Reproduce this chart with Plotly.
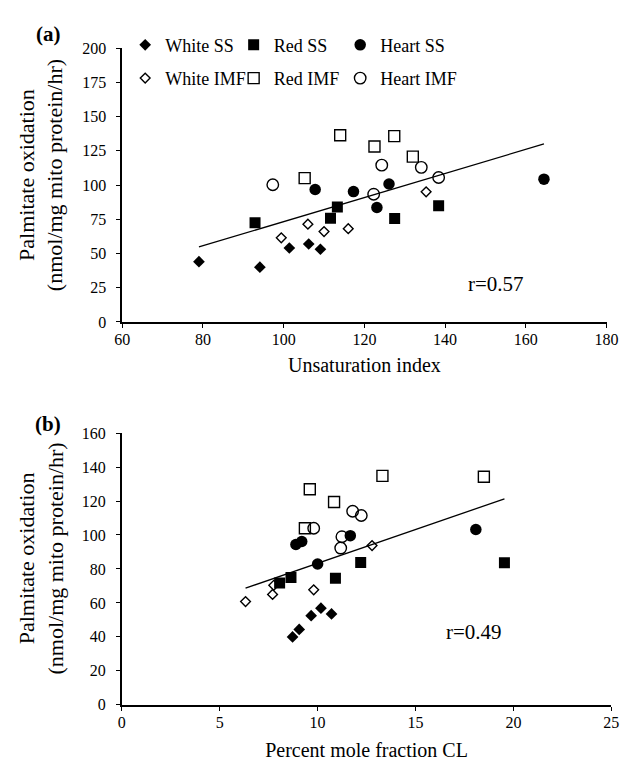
import numpy as np
import plotly.graph_objects as go

# ---------------- data ----------------
groups = ["White SS", "Red SS", "Heart SS", "White IMF", "Red IMF", "Heart IMF"]

# Panel (a): unsaturation index vs palmitate oxidation
white_ss_ui = [79.0, 94.1, 101.4, 106.2, 109.1]
white_ss_po_a = [44.0, 40.0, 54.0, 56.9, 53.1]
red_ss_ui = [92.9, 111.6, 113.3, 127.5, 138.4]
red_ss_po_a = [72.4, 75.7, 84.0, 75.5, 84.8]
heart_ss_ui = [107.8, 117.3, 123.1, 126.1, 164.5]
heart_ss_po_a = [96.7, 95.2, 83.6, 100.7, 104.3]
white_imf_ui = [99.4, 106.0, 110.0, 116.0, 135.3]
white_imf_po_a = [61.4, 71.4, 66.0, 68.1, 95.0]
red_imf_ui = [105.2, 114.0, 122.5, 127.4, 132.0]
red_imf_po_a = [105.0, 136.4, 128.1, 135.7, 120.7]
heart_imf_ui = [97.3, 122.3, 124.3, 134.1, 138.4]
heart_imf_po_a = [100.2, 93.3, 114.5, 112.9, 105.5]

# Panel (b): percent mole fraction CL vs palmitate oxidation
white_ss_cl = [8.72, 9.06, 9.67, 10.17, 10.71]
white_ss_po_b = [40.0, 44.4, 52.5, 56.9, 53.5]
red_ss_cl = [8.06, 8.64, 10.91, 12.20, 19.54]
red_ss_po_b = [71.7, 75.0, 74.6, 83.8, 83.6]
heart_ss_cl = [8.89, 9.19, 10.00, 11.67, 18.08]
heart_ss_po_b = [94.4, 96.2, 82.9, 99.6, 103.2]
white_imf_cl = [6.32, 7.70, 7.76, 9.80, 12.78]
white_imf_po_b = [60.8, 65.0, 70.4, 67.7, 93.8]
red_imf_cl = [9.35, 9.60, 10.84, 13.31, 18.49]
red_imf_po_b = [104.0, 126.9, 119.4, 134.8, 134.3]
heart_imf_cl = [9.80, 11.24, 11.18, 11.79, 12.23]
heart_imf_po_b = [104.0, 99.0, 92.3, 114.0, 111.5]

r_text_a = "r=0.57"
r_text_b = "r=0.49"
y_title = "Palmitate oxidation<br>(nmol/mg mito protein/hr)"
x_title_a = "Unsaturation index"
x_title_b = "Percent mole fraction CL"

panel_a = [
    (white_ss_ui, white_ss_po_a), (red_ss_ui, red_ss_po_a), (heart_ss_ui, heart_ss_po_a),
    (white_imf_ui, white_imf_po_a), (red_imf_ui, red_imf_po_a), (heart_imf_ui, heart_imf_po_a),
]
panel_b = [
    (white_ss_cl, white_ss_po_b), (red_ss_cl, red_ss_po_b), (heart_ss_cl, heart_ss_po_b),
    (white_imf_cl, white_imf_po_b), (red_imf_cl, red_imf_po_b), (heart_imf_cl, heart_imf_po_b),
]

# ---------------- styles ----------------
SERIF = "Liberation Serif, Times New Roman, serif"
styles = [
    dict(symbol="diamond", size=9, color="black", line=dict(width=0)),
    dict(symbol="square", size=11, color="black", line=dict(width=0)),
    dict(symbol="circle", size=11.5, color="black", line=dict(width=0)),
    dict(symbol="diamond-open", size=7.5, color="black", line=dict(width=1.4)),
    dict(symbol="square-open", size=11, color="black", line=dict(width=1.4)),
    dict(symbol="circle-open", size=11.5, color="black", line=dict(width=1.4)),
]
legend_names = ["legend", "legend2", "legend3", "legend4", "legend5", "legend6"]

fig = go.Figure()


def add_panel(data, xa, ya, show_legend):
    for i, (xs, ys) in enumerate(data):
        fig.add_trace(go.Scatter(
            x=xs, y=ys, mode="markers", name=groups[i],
            marker=styles[i], xaxis=xa, yaxis=ya,
            showlegend=show_legend, legend=legend_names[i],
        ))
    allx = np.concatenate([np.asarray(d[0], float) for d in data])
    ally = np.concatenate([np.asarray(d[1], float) for d in data])
    slope, intercept = np.polyfit(allx, ally, 1)
    lx = np.array([allx.min(), allx.max()])
    fig.add_trace(go.Scatter(
        x=lx, y=slope * lx + intercept, mode="lines",
        line=dict(color="black", width=1.3), xaxis=xa, yaxis=ya,
        showlegend=False, hoverinfo="skip",
    ))


add_panel(panel_a, "x", "y", True)
add_panel(panel_b, "x2", "y2", False)

W, H = 634, 771


def px_x(p):
    return p / W


def px_y(p):
    return 1 - p / H


axis_common = dict(
    showgrid=False, zeroline=False, showline=True, linecolor="black", linewidth=1.8,
    ticks="outside", ticklen=4, tickwidth=1.4, tickcolor="black",
    tickfont=dict(family=SERIF, size=16, color="black"),
    mirror=False,
)
xaxis_extra = dict(ticklabelstandoff=-2)
yaxis_extra = dict(ticklabelstandoff=7)

fig.update_layout(
    width=W, height=H,
    margin=dict(l=0, r=0, t=0, b=0),
    paper_bgcolor="white", plot_bgcolor="white",
    font=dict(family=SERIF, color="black"),
    xaxis=dict(axis_common, **xaxis_extra, domain=[px_x(118), px_x(618)], range=[60, 180],
               dtick=20, anchor="y",
               title=dict(text=x_title_a, font=dict(size=20), standoff=11)),
    yaxis=dict(axis_common, **yaxis_extra, domain=[px_y(321), px_y(41)], range=[0, 200],
               dtick=25, anchor="x"),
    xaxis2=dict(axis_common, **xaxis_extra, domain=[px_x(117.5), px_x(623)], range=[0, 25],
                dtick=5, anchor="y2",
                title=dict(text=x_title_b, font=dict(size=20), standoff=13)),
    yaxis2=dict(axis_common, **yaxis_extra, domain=[px_y(712.5), px_y(434.7)], range=[0, 160],
                dtick=20, anchor="x2"),
    showlegend=True,
)

# y-axis titles (two lines, rotated) placed left of the tick labels
for yc in (171, 563):
    fig.add_annotation(text=y_title, xref="paper", yref="paper", x=px_x(34), y=px_y(yc),
                       xanchor="center", yanchor="middle", textangle=-90, showarrow=False,
                       font=dict(family=SERIF, size=22, color="black"))

# legends: one per group, arranged in two rows of three
leg_x = [121, 233, 343]
leg_y = [38, 72]
leg_pos = [(leg_x[0], leg_y[0]), (leg_x[1], leg_y[0]), (leg_x[2], leg_y[0]),
           (leg_x[0], leg_y[1]), (leg_x[1], leg_y[1]), (leg_x[2], leg_y[1])]
for name, (lx, ly) in zip(legend_names, leg_pos):
    fig.update_layout({name: dict(
        x=px_x(lx), y=px_y(ly), xanchor="left", yanchor="middle",
        bgcolor="rgba(0,0,0,0)", borderwidth=0,
        font=dict(family=SERIF, size=18, color="black"),
        itemwidth=30,
    )})

fig.add_annotation(text="(a)", xref="paper", yref="paper", x=px_x(42), y=px_y(27),
                   xanchor="center", yanchor="middle", showarrow=False,
                   font=dict(family=SERIF, size=21, color="black", weight="bold"))
fig.add_annotation(text="(b)", xref="paper", yref="paper", x=px_x(41), y=px_y(425),
                   xanchor="center", yanchor="middle", showarrow=False,
                   font=dict(family=SERIF, size=21, color="black", weight="bold"))
fig.add_annotation(text=r_text_a, xref="x", yref="y", x=152.5, y=28, showarrow=False,
                   font=dict(family=SERIF, size=21, color="black"))
fig.add_annotation(text=r_text_b, xref="x2", yref="y2", x=18.0, y=42.6, showarrow=False,
                   font=dict(family=SERIF, size=21, color="black"))

fig.write_html("out.html")
